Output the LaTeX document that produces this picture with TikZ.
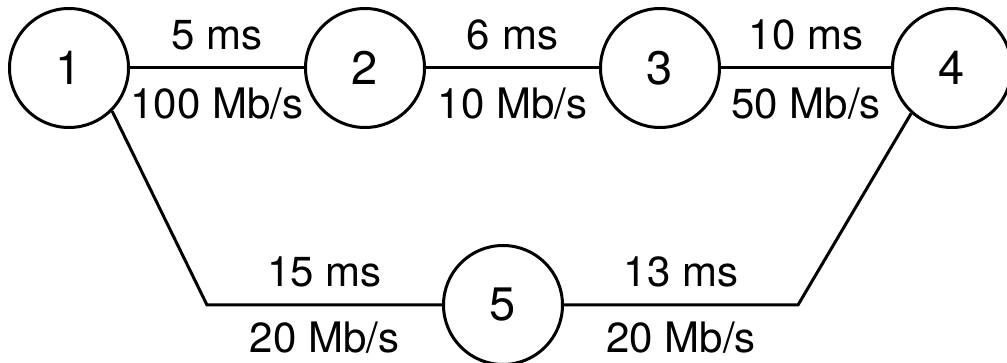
\documentclass[tikz,border=0pt]{standalone}
\usepackage{fontspec}
\setmainfont{TeX Gyre Heros}
\usepackage{tikz}
\tikzset{>=latex}
\tikzset{
    router/.style={draw, circle, line width=3pt, minimum size=119pt, inner sep=0pt,
        font=\fontsize{47}{47}\selectfont},
    link/.style={line width=3pt},
    delay/.style={above=17pt, inner sep=0pt, text height=30pt, text depth=0pt,
        font=\fontsize{42}{42}\selectfont},
    rate/.style={below=#1, inner sep=0pt, text height=30pt, text depth=0pt,
        font=\fontsize{42}{42}\selectfont},
    rate/.default=19.5pt
}

\begin{document}
\begin{tikzpicture}[x=1pt, y=-1pt]
    \useasboundingbox (0, 0) rectangle (1007, 363);
    \foreach \r/\x/\y in {1/69/68, 2/365/68, 3/660/68, 4/952/68, 5/503/305} {
        \node [router] (n\r) at (\x, \y) {\r};
    }
    \coordinate (bl) at (207, 305);
    \coordinate (br) at (798, 305);
    \draw[link] (n1) -- node[delay]{5 ms} node[rate]{100 Mb/s} (n2);
    \draw[link] (n2) -- node[delay]{6 ms} node[rate]{10 Mb/s} (n3);
    \draw[link] (n3) -- node[delay]{10 ms} node[rate]{50 Mb/s} (n4);
    \draw[link] (n1.-45) -- (bl) -- node[delay]{15 ms} node[rate=16pt]{20 Mb/s} (n5);
    \draw[link] (n5) -- node[delay]{13 ms} node[rate=16pt]{20 Mb/s} (br) -- (n4.-132);
\end{tikzpicture}
\end{document}
